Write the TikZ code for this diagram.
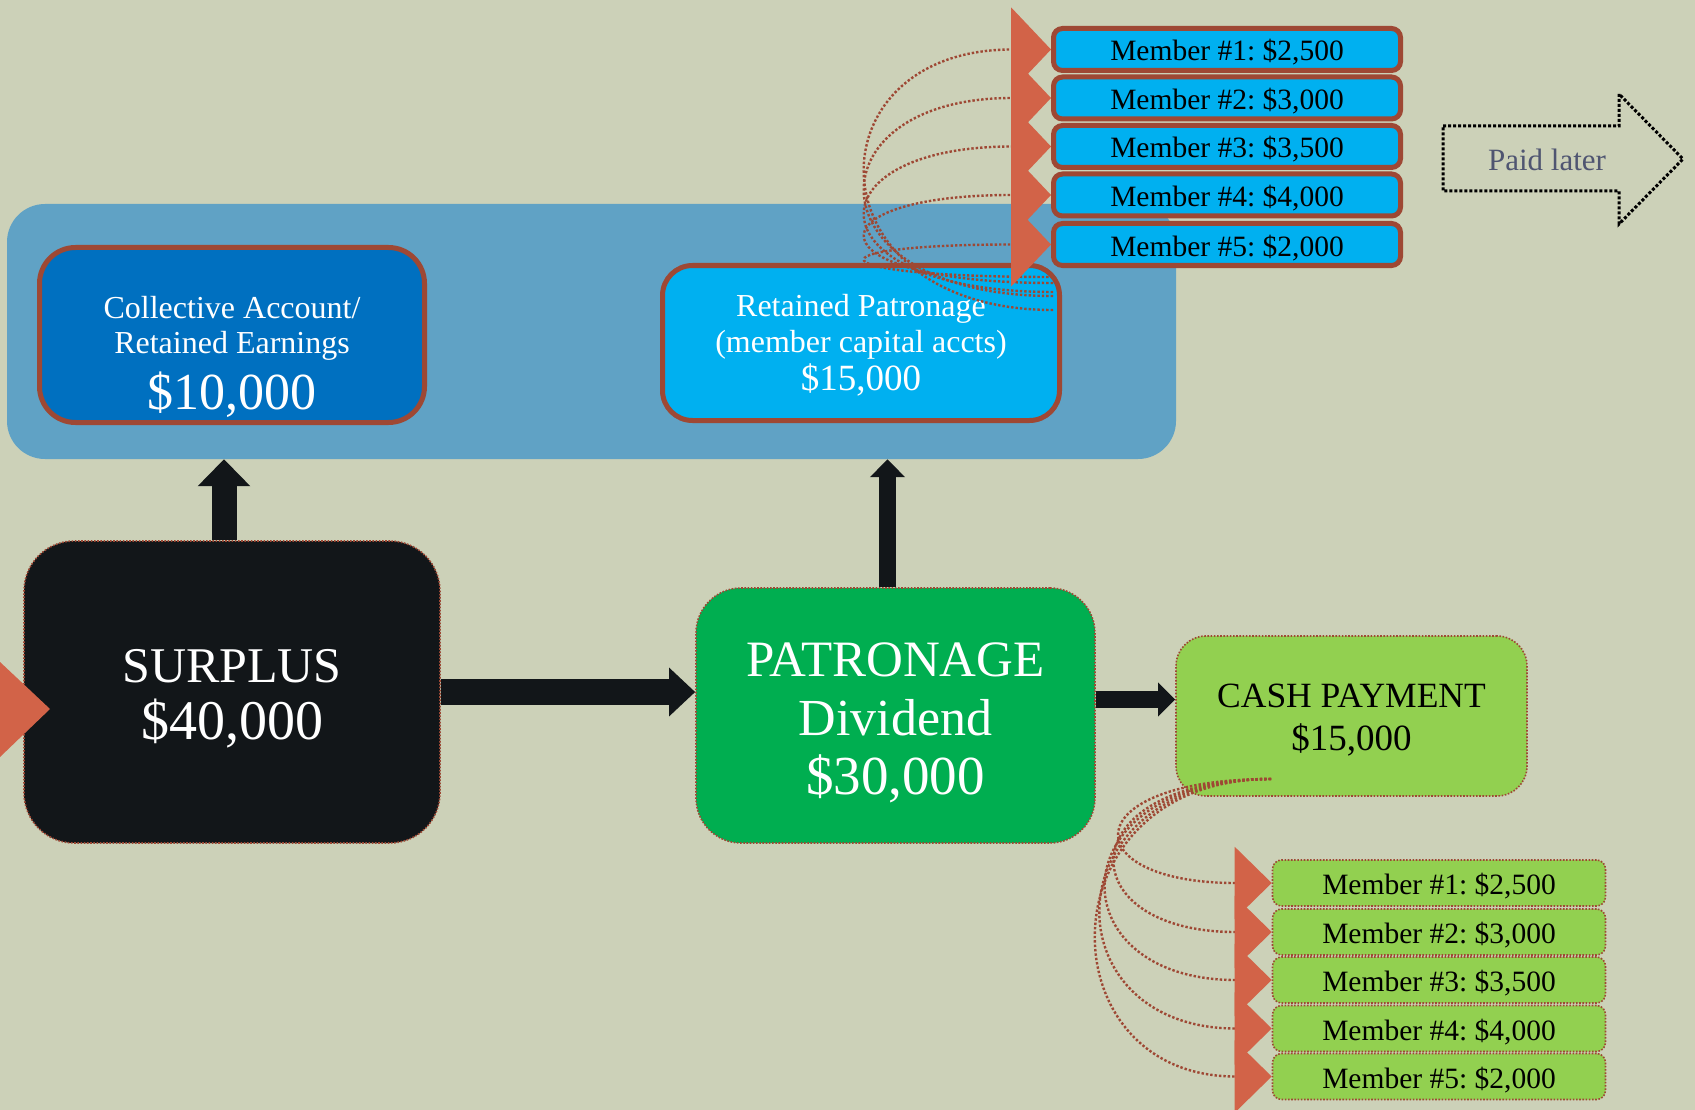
\documentclass[tikz,border=0pt]{standalone}
\usepackage{fontspec}
\setmainfont{Liberation Serif}
\usetikzlibrary{arrows.meta,calc}

\definecolor{bg}{RGB}{204,209,184}
\definecolor{panelblue}{RGB}{96,162,197}
\definecolor{deepblue}{RGB}{0,112,192}
\definecolor{skyblue}{RGB}{0,176,240}
\definecolor{rust}{RGB}{158,72,52}
\definecolor{coral}{RGB}{210,99,72}
\definecolor{ink}{RGB}{18,22,25}
\definecolor{leaf}{RGB}{0,174,80}
\definecolor{lime}{RGB}{146,208,80}
\definecolor{slate}{RGB}{79,85,113}

\newcommand{\fs}[2]{\fontsize{#1}{#2}\selectfont}
\frenchspacing

\begin{document}
\begin{tikzpicture}[x=1pt,y=-1pt,
  card/.style={rounded corners=#1, inner sep=0pt, align=center},
  solidedge/.style={draw=rust, line width=5pt},
  dotedge/.style={draw=rust, line width=1.6pt, dash pattern=on 1.6pt off 1.6pt},
  memberbase/.style={card=9pt, font=\fs{29.5}{32}, text height=29pt, text depth=6pt},
  bluemember/.style={memberbase, solidedge, fill=skyblue, minimum width=347pt, minimum height=42pt},
  greenmember/.style={memberbase, dotedge, fill=lime, minimum width=333pt, minimum height=46pt},
  flow/.style={draw=ink, line width=#1},
  bluecurve/.style={draw=rust, line width=2.4pt, dotted,
    -{Triangle[length=40pt,width=84pt,fill=coral,color=coral]}},
  greencurve/.style={draw=rust, line width=2.4pt, dotted,
    -{Triangle[length=37pt,width=72pt,fill=coral,color=coral]}}
]
% canvas
\fill[bg] (0,0) rectangle (1695,1110);
\useasboundingbox (0,0) rectangle (1695,1110);

% retained-equity panel
\node[card=38pt, fill=panelblue, minimum width=1169pt, minimum height=255pt] (panel) at (591.5,331.5) {};

\node[card=36pt, solidedge, fill=deepblue, text=white, minimum width=385pt, minimum height=175pt, font=\fs{32}{35}] (coll) at (232,335)
  {\rule{0pt}{66pt}Collective Account/\\Retained Earnings\\[11pt]{\fs{52}{50}\$10,000}};

\node[card=30pt, solidedge, fill=skyblue, text=white, minimum width=397pt, minimum height=155pt, font=\fs{32}{36}] (rp) at (861,343)
  {\rule{0pt}{26pt}Retained Patronage\\(member capital accts)\\[2pt]{\fs{37}{38}\$15,000}};

% member capital accounts
\node[bluemember] (m1) at (1227,49.5) {Member \#1: \$2,500};
\node[bluemember] (m2) at (1227,98) {Member \#2: \$3,000};
\node[bluemember] (m3) at (1227,146.5) {Member \#3: \$3,500};
\node[bluemember] (m4) at (1227,195) {Member \#4: \$4,000};
\node[bluemember] (m5) at (1227,244.5) {Member \#5: \$2,000};

% main flow boxes
\node[card=50pt, dotedge, fill=ink, text=white, minimum width=416pt, minimum height=302pt, font=\fs{50}{57}] (surplus) at (232,692)
  {\rule{0pt}{47pt}SURPLUS\\{\fs{56}{57}\$40,000}};
\node[card=45pt, dotedge, fill=leaf, text=white, minimum width=399pt, minimum height=255pt, font=\fs{51}{59}] (pat) at (895.5,715.5)
  {\rule{0pt}{49pt}PATRONAGE\\{\fs{52}{59}Dividend}\\{\fs{55}{59}\$30,000}};
\node[card=30pt, dotedge, fill=lime, text=black, minimum width=351pt, minimum height=160pt, font=\fs{35.5}{43}] (cash) at (1351.5,716)
  {\rule{0pt}{32pt}CASH PAYMENT\\{\fs{37}{43}\$15,000}};

% cash payouts
\node[greenmember] (g1) at (1439,883) {Member \#1: \$2,500};
\node[greenmember] (g2) at (1439,932) {Member \#2: \$3,000};
\node[greenmember] (g3) at (1439,980) {Member \#3: \$3,500};
\node[greenmember] (g4) at (1439,1028.5) {Member \#4: \$4,000};
\node[greenmember] (g5) at (1439,1076.5) {Member \#5: \$2,000};

% block arrows
\draw[flow=25pt, -{Triangle[length=27pt,width=51pt]}] ([xshift=-8pt]surplus.north) -- ([xshift=-8pt]surplus.north |- panel.south);
\draw[flow=17pt, -{Triangle[length=18pt,width=34pt]}] ([xshift=-8pt]pat.north) -- ([xshift=-8pt]pat.north |- panel.south);
\draw[flow=26pt, -{Triangle[length=26pt,width=47pt]}] (surplus.east) -- (surplus.east -| pat.west);
\draw[flow=17pt, -{Triangle[length=17pt,width=33pt]}] ([yshift=16pt]pat.east) -- ([yshift=16pt]pat.east -| cash.west);

% incoming arrowhead at the left edge
\fill[coral] (0,662) -- (50,709) -- (0,757) -- cycle;

% allocation to member capital accounts
\coordinate (r1) at (1053,310);
\coordinate (r2) at (1053,296);
\coordinate (r3) at (1053,292);
\coordinate (r4) at (1053,283);
\coordinate (r5) at (1053,277);
\draw[bluecurve] (r1) to[out=180,in=180,distance=244pt] (m1.west);
\draw[bluecurve] (r2) to[out=180,in=180,distance=244pt] (m2.west);
\draw[bluecurve] (r3) to[out=180,in=180,distance=244pt] (m3.west);
\draw[bluecurve] (r4) to[out=180,in=180,distance=244pt] (m4.west);
\draw[bluecurve] (r5) to[out=180,in=180,distance=244pt] (m5.west);

% cash payouts to members
\coordinate (c0) at (1271,779);
\draw[greencurve] (c0) to[out=180,in=180,distance=198pt] (g1.west);
\draw[greencurve] (c0) to[out=180,in=180,distance=204pt] (g2.west);
\draw[greencurve] (c0) to[out=180,in=180,distance=216pt] (g3.west);
\draw[greencurve] (c0) to[out=180,in=180,distance=223pt] (g4.west);
\draw[greencurve] (c0) to[out=180,in=180,distance=229pt] (g5.west);

% deferred payment arrow
\draw[line width=3pt, dotted, line join=miter] (1443,126) -- (1619,126) -- (1619,94) -- (1683,159) -- (1619,224) -- (1619,191) -- (1443,191) -- cycle;
\node[text=slate, font=\fs{31}{35}, inner sep=0pt] (paid) at (1547,160) {Paid later};
\end{tikzpicture}
\end{document}
